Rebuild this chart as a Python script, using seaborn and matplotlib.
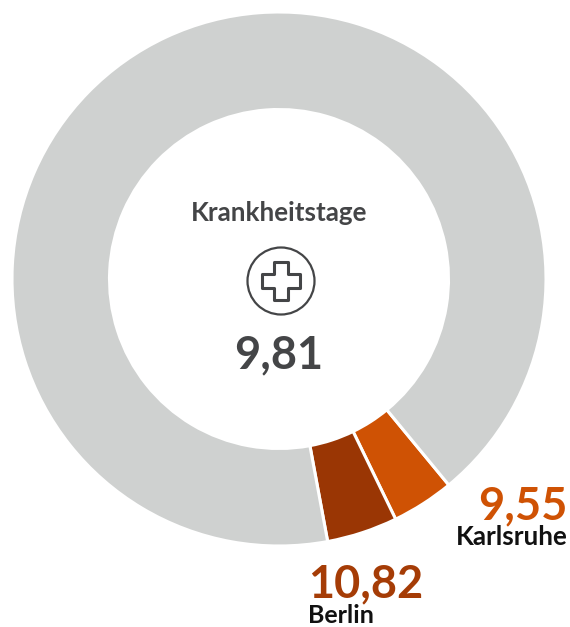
import matplotlib
matplotlib.use("Agg")
import matplotlib.pyplot as plt
from matplotlib.patches import Circle, Polygon
import seaborn as sns

# Values as read from the picture (the rest is estimated from the slice angles)
cities = ["Karlsruhe", "Berlin", "Rest"]
values = [9.55, 10.82, 232.5]
labels_value = ["9,55", "10,82"]
average_label = "9,81"
title = "Krankheitstage"
colors = ["#cf5204", "#9a3604", "#cfd1d0"]

sns.set_theme(style="white")
plt.rcParams["font.family"] = ["Lato", "DejaVu Sans"]

W, H = 570, 627
fig = plt.figure(figsize=(W / 100, H / 100), dpi=100)
ax = fig.add_axes([0, 0, 1, 1])


def py(y):
    # pixel row from the top -> axes y
    return H - y


# 1. Donut
ax.pie(values, colors=sns.color_palette(colors), startangle=-50.5, counterclock=False,
       center=(279, py(279)), radius=267, frame=True,
       wedgeprops=dict(width=97.5, edgecolor="white", linewidth=2.2))
ax.set_xlim(0, W)
ax.set_ylim(0, H)
ax.set_aspect("equal")
ax.axis("off")

# 2. Centre text and icon
grey = "#444547"
ax.text(279.5, py(213), title, ha="center", va="center", fontsize=18.7, fontweight="bold", color=grey)
ax.text(278.5, py(355), average_label, ha="center", va="center", fontsize=32.5, fontweight="bold", color=grey)

cx, cy = 281, py(281)
ax.add_patch(Circle((cx, cy), 33.5, fill=False, edgecolor=grey, linewidth=1.6))
a, b = 19, 7
plus = [(-b, a), (b, a), (b, b), (a, b), (a, -b), (b, -b), (b, -a), (-b, -a), (-b, -b), (-a, -b), (-a, b), (-b, b)]
ax.add_patch(Polygon([(cx + x, cy + y) for x, y in plus], closed=True, fill=False,
                     edgecolor=grey, linewidth=2.2, joinstyle="round"))

# 3. Labels of the highlighted cities
ax.text(567.5, py(506.5), labels_value[0], ha="right", va="center", fontsize=32.5, fontweight="bold", color=colors[0])
ax.text(568, py(537), cities[0], ha="right", va="center", fontsize=18.7, fontweight="bold", color="#111111")
ax.text(308, py(584), labels_value[1], ha="left", va="center", fontsize=32.5, fontweight="bold", color="#a53c06")
ax.text(308, py(623), cities[1], ha="left", va="baseline", fontsize=18, fontweight="bold", color="#111111")

fig.savefig("out.png", dpi=100, facecolor="white")
